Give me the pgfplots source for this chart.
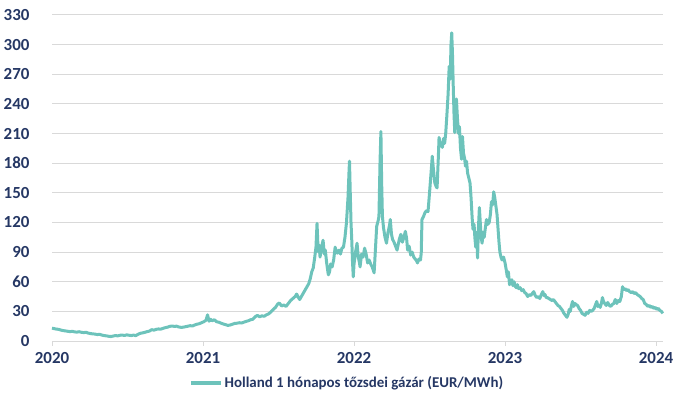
\documentclass[border=0pt]{standalone}
\usepackage{pgfplots}
\pgfplotsset{compat=1.18}
\usepackage{fontspec}
\setmainfont{Carlito}
\definecolor{teal1}{RGB}{109,195,187}
\definecolor{navy}{RGB}{37,55,100}
\definecolor{gridc}{RGB}{217,217,217}
\begin{document}
\begin{tikzpicture}
\useasboundingbox (0,0) rectangle (676bp,394bp);
\begin{axis}[
  at={(52bp,53bp)}, anchor=south west,
  scale only axis, width=611bp, height=326bp,
  xmin=2020, xmax=2024.046, ymin=0, ymax=330,
  axis x line*=bottom, axis y line*=left,
  x axis line style={draw=gridc, line width=1bp, -},
  y axis line style={draw=none},
  ytick={0,30,...,330},
  xtick={2020,2021,2022,2023,2024},
  xticklabels={2020,2021,2022,2023,2024},
  ymajorgrids, grid style={draw=gridc, line width=1bp},
  ytick style={draw=none},
  xtick style={draw=gridc, line width=1bp},
  tick align=outside, major tick length=5bp,
  tick label style={font=\fontsize{17}{19}\selectfont\bfseries, text=navy},
  /pgf/number format/assume math mode=true,
  yticklabel style={xshift=-14bp},
  xticklabel style={yshift=-3bp},
  legend style={at={(axis description cs:0.483,-0.129)}, anchor=center, draw=none, fill=none,
    font=\fontsize{15}{17}\selectfont\bfseries, text=navy, inner sep=0pt},
  legend image code/.code={\draw[#1, line width=3.5bp] (0cm,0cm) -- (30bp,0cm);},
  clip=false,
]
\addplot[color=teal1, line width=3bp, line join=round] table {
2020.000 13.0
2020.015 12.5
2020.030 12.0
2020.045 11.8
2020.060 11.0
2020.075 10.5
2020.090 10.2
2020.105 9.8
2020.120 9.5
2020.135 9.8
2020.150 9.2
2020.165 9.0
2020.180 9.4
2020.195 8.8
2020.210 8.5
2020.225 8.8
2020.240 8.0
2020.255 7.5
2020.270 7.2
2020.285 7.0
2020.300 6.5
2020.315 6.8
2020.330 6.0
2020.345 5.5
2020.360 5.2
2020.375 4.8
2020.390 4.5
2020.405 5.0
2020.420 5.5
2020.435 5.2
2020.450 5.8
2020.465 6.0
2020.480 5.6
2020.495 6.2
2020.510 5.8
2020.525 5.5
2020.540 6.0
2020.555 5.4
2020.570 6.8
2020.585 7.8
2020.600 8.2
2020.615 8.8
2020.630 9.5
2020.645 10.0
2020.660 11.5
2020.675 11.0
2020.690 11.8
2020.705 12.2
2020.720 12.0
2020.735 12.8
2020.750 13.5
2020.765 14.0
2020.780 14.8
2020.795 15.2
2020.810 14.8
2020.825 15.0
2020.840 14.2
2020.855 13.8
2020.870 14.0
2020.885 14.5
2020.900 15.0
2020.915 15.5
2020.930 15.2
2020.945 16.2
2020.960 17.0
2020.975 17.5
2020.990 18.5
2021.005 19.5
2021.020 21.0
2021.030 26.5
2021.040 20.0
2021.050 22.0
2021.060 20.5
2021.075 21.5
2021.090 19.5
2021.105 19.0
2021.120 18.0
2021.135 17.2
2021.150 16.5
2021.165 15.8
2021.180 16.2
2021.195 17.0
2021.210 17.8
2021.225 18.0
2021.240 18.5
2021.255 18.2
2021.270 19.0
2021.285 19.8
2021.300 20.5
2021.315 21.5
2021.330 22.0
2021.345 24.5
2021.360 26.0
2021.375 24.5
2021.390 25.5
2021.405 25.0
2021.420 26.5
2021.435 27.5
2021.450 29.5
2021.465 32.0
2021.480 34.0
2021.495 37.5
2021.505 38.5
2021.520 35.5
2021.535 36.5
2021.550 35.0
2021.565 38.0
2021.580 41.0
2021.595 43.0
2021.610 45.0
2021.620 47.5
2021.630 44.5
2021.640 42.0
2021.655 46.0
2021.670 50.0
2021.685 54.0
2021.700 58.0
2021.710 63.0
2021.720 70.0
2021.730 74.0
2021.740 85.0
2021.748 95.0
2021.755 119.0
2021.760 100.0
2021.765 90.0
2021.770 97.0
2021.775 85.0
2021.785 95.0
2021.795 102.0
2021.803 88.0
2021.810 92.0
2021.818 80.0
2021.825 72.0
2021.830 67.0
2021.838 70.0
2021.845 78.0
2021.855 75.0
2021.865 82.0
2021.875 95.0
2021.883 90.0
2021.890 89.0
2021.900 92.0
2021.910 88.0
2021.920 94.0
2021.930 95.0
2021.940 105.0
2021.950 120.0
2021.960 145.0
2021.967 172.0
2021.970 182.0
2021.975 150.0
2021.980 120.0
2021.985 102.0
2021.990 80.0
2021.995 65.0
2022.000 78.0
2022.010 90.0
2022.020 99.0
2022.028 85.0
2022.035 80.0
2022.040 75.0
2022.050 88.0
2022.060 85.0
2022.070 94.0
2022.080 88.0
2022.090 79.0
2022.100 82.0
2022.110 78.0
2022.120 75.0
2022.127 72.0
2022.133 69.0
2022.140 88.0
2022.150 116.0
2022.160 122.0
2022.165 126.0
2022.172 180.0
2022.178 212.0
2022.183 160.0
2022.188 126.0
2022.195 115.0
2022.205 105.0
2022.215 99.0
2022.225 110.0
2022.235 117.0
2022.240 123.0
2022.248 108.0
2022.255 103.0
2022.265 100.0
2022.275 96.0
2022.285 92.0
2022.293 98.0
2022.300 103.0
2022.310 108.0
2022.320 100.0
2022.330 105.0
2022.340 111.0
2022.348 104.0
2022.355 92.0
2022.365 96.0
2022.375 87.0
2022.385 90.0
2022.395 85.0
2022.405 83.0
2022.415 81.0
2022.420 79.0
2022.430 83.0
2022.440 82.0
2022.445 89.0
2022.450 123.0
2022.460 126.0
2022.470 130.0
2022.480 132.0
2022.490 131.0
2022.500 150.0
2022.510 170.0
2022.518 187.0
2022.525 175.0
2022.535 160.0
2022.545 156.0
2022.550 155.0
2022.558 185.0
2022.563 206.0
2022.570 200.0
2022.578 198.0
2022.585 196.0
2022.593 205.0
2022.600 200.0
2022.607 210.0
2022.615 229.0
2022.623 250.0
2022.630 278.0
2022.637 265.0
2022.642 300.0
2022.647 312.0
2022.652 290.0
2022.657 258.0
2022.662 230.0
2022.667 211.0
2022.673 230.0
2022.678 245.0
2022.685 225.0
2022.692 210.0
2022.698 217.0
2022.705 195.0
2022.712 184.0
2022.718 207.0
2022.725 190.0
2022.732 185.0
2022.738 177.0
2022.745 182.0
2022.752 170.0
2022.760 165.0
2022.768 160.0
2022.775 145.0
2022.782 125.0
2022.788 113.0
2022.795 118.0
2022.800 105.0
2022.806 95.0
2022.812 110.0
2022.818 84.0
2022.824 115.0
2022.830 135.0
2022.836 120.0
2022.842 105.0
2022.848 99.0
2022.855 110.0
2022.862 105.0
2022.870 115.0
2022.877 123.0
2022.885 118.0
2022.895 120.0
2022.903 128.0
2022.910 141.0
2022.918 138.0
2022.925 151.0
2022.932 145.0
2022.940 136.0
2022.947 128.0
2022.953 115.0
2022.960 100.0
2022.966 90.0
2022.973 85.0
2022.980 82.0
2022.990 85.0
2023.000 79.0
2023.008 72.0
2023.015 65.0
2023.022 70.0
2023.030 57.0
2023.037 60.0
2023.045 62.0
2023.052 56.0
2023.060 60.0
2023.068 55.0
2023.075 54.0
2023.082 57.0
2023.090 53.0
2023.100 54.0
2023.110 51.0
2023.120 52.0
2023.130 49.0
2023.140 48.0
2023.150 45.0
2023.160 47.0
2023.170 46.0
2023.180 48.0
2023.190 50.0
2023.200 46.0
2023.210 44.0
2023.220 45.0
2023.230 43.0
2023.240 47.0
2023.250 50.0
2023.258 46.0
2023.265 47.0
2023.272 44.0
2023.280 44.0
2023.290 43.0
2023.300 42.0
2023.310 41.0
2023.320 42.0
2023.330 40.0
2023.340 38.0
2023.350 36.0
2023.360 35.0
2023.370 33.0
2023.380 31.0
2023.390 28.0
2023.400 26.0
2023.410 24.0
2023.418 27.0
2023.425 32.0
2023.432 30.0
2023.440 36.0
2023.447 40.0
2023.455 35.0
2023.462 38.0
2023.470 37.0
2023.480 36.0
2023.490 33.0
2023.500 31.0
2023.510 28.0
2023.520 27.0
2023.530 26.0
2023.540 29.0
2023.550 28.0
2023.560 31.0
2023.570 30.0
2023.580 31.0
2023.590 33.0
2023.600 37.0
2023.607 40.0
2023.615 35.0
2023.622 36.0
2023.630 34.0
2023.638 38.0
2023.645 44.0
2023.652 40.0
2023.660 38.0
2023.670 36.0
2023.680 39.0
2023.690 36.0
2023.700 35.0
2023.710 37.0
2023.720 38.0
2023.730 42.0
2023.740 38.0
2023.750 41.0
2023.760 40.0
2023.770 45.0
2023.778 55.0
2023.785 52.0
2023.795 53.0
2023.805 51.0
2023.815 52.0
2023.825 50.0
2023.835 49.0
2023.845 50.0
2023.855 48.0
2023.865 49.0
2023.875 47.0
2023.885 46.0
2023.895 45.0
2023.905 43.0
2023.915 42.0
2023.925 38.0
2023.935 37.0
2023.945 35.0
2023.955 36.0
2023.965 34.0
2023.975 35.0
2023.985 33.0
2023.995 34.0
2024.005 32.0
2024.015 33.0
2024.025 31.0
2024.035 30.0
2024.045 28.0
};
\addlegendentry{Holland 1 hónapos tőzsdei gázár (EUR/MWh)}
\end{axis}
\end{tikzpicture}
\end{document}
